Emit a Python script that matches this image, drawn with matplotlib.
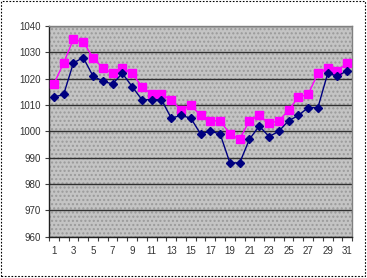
import matplotlib
matplotlib.use("Agg")
import matplotlib.pyplot as plt
from matplotlib.patches import Rectangle
import numpy as np

days = list(range(1, 32))
series_blue = [1013, 1014, 1026, 1028, 1021, 1019, 1018, 1022, 1017, 1012,
               1012, 1012, 1005, 1006, 1005, 999, 1000, 999, 988, 988,
               997, 1002, 998, 1000, 1004, 1006, 1009, 1009, 1022, 1021, 1023]
series_pink = [1018, 1026, 1035, 1034, 1028, 1024, 1022, 1024, 1022, 1017,
               1014, 1014, 1012, 1008, 1010, 1006, 1004, 1004, 999, 997,
               1004, 1006, 1003, 1004, 1008, 1013, 1014, 1022, 1024, 1023, 1026]
y_ticks = [960, 970, 980, 990, 1000, 1010, 1020, 1030, 1040]
x_labels = [str(d) for d in range(1, 32, 2)]

plt.rcParams['font.family'] = ['Liberation Sans', 'DejaVu Sans']

fig = plt.figure(figsize=(3.67, 2.78), dpi=100)
fig.patch.set_facecolor('white')
ax = fig.add_axes([0.1335, 0.149, 0.826, 0.7575])
ax.set_facecolor('#c4c4c4')
ax.add_patch(Rectangle((0, 0), 1, 1, transform=ax.transAxes, facecolor='none',
                       edgecolor='#9a9a9a', hatch='....', linewidth=0, zorder=0))

ax.set_xlim(0.5, 31.5)
ax.set_ylim(960, 1040)
ax.set_yticks(y_ticks)
ax.yaxis.grid(True, color='#303030', linewidth=1.0)
ax.set_axisbelow(True)

ax.plot(days, series_pink, color='#ff00ff', marker='s', markersize=6,
        linewidth=1.0, zorder=3)
ax.plot(days, series_blue, color='#000080', marker='D', markersize=4.5,
        linewidth=1.0, zorder=4)

ax.set_xticks(np.arange(0.5, 32, 1))
ax.set_xticklabels([])
ax.set_xticks(list(range(1, 32, 2)), minor=True)
ax.set_xticklabels(x_labels, minor=True)
ax.tick_params(axis='x', which='major', length=3, width=0.8, color='#404040', direction='out')
ax.tick_params(axis='x', which='minor', length=0, labelsize=7, colors='#333333', pad=7)
ax.tick_params(axis='y', length=3, width=0.8, color='#404040', labelsize=7,
               labelcolor='#333333', pad=3)

for side in ['left', 'bottom']:
    ax.spines[side].set_color('#202020')
    ax.spines[side].set_linewidth(1.0)
for side in ['top', 'right']:
    ax.spines[side].set_color('#808080')
    ax.spines[side].set_linewidth(1.0)

fig.add_artist(Rectangle((0.004, 0.006), 0.99, 0.99, transform=fig.transFigure,
                         fill=False, edgecolor='black', linestyle=(0, (1.5, 1.5)),
                         linewidth=0.8))

fig.savefig('out.png', dpi=100)
